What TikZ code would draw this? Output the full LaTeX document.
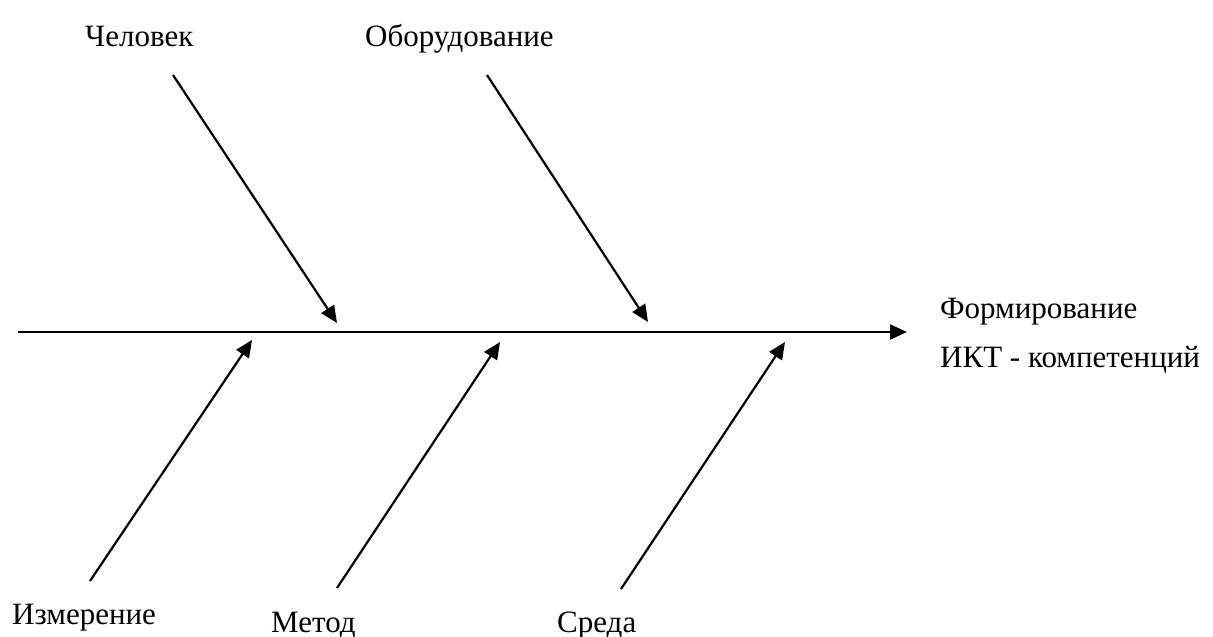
\documentclass[tikz,border=0pt]{standalone}
\usepackage{fontspec}
\setmainfont{Liberation Serif}
\usetikzlibrary{arrows.meta}
\begin{document}
\begin{tikzpicture}[x=1pt,y=-1pt,
  lbl/.style={font=\fontsize{31}{37}\selectfont, inner sep=0pt, anchor=base west},
  arr/.style={line width=2.2pt, -{Triangle[length=17pt,width=15pt]}}]
\useasboundingbox (0,0) rectangle (1213,637);
% labels
\node[lbl] (chel) at (85,46) {Человек};
\node[lbl] (obor) at (365,46) {Оборудование};
\node[lbl] (form) at (940,318) {Формирование};
\node[lbl] (ikt) at (940,367) {ИКТ - компетенций};
\node[lbl] (izm) at (12,624) {Измерение};
\node[lbl] (met) at (271,632) {Метод};
\node[lbl] (sre) at (557,632) {Среда};
% coordinates
\coordinate (m0) at (18,332);
\coordinate (m1) at (907,332);
\coordinate (a0) at (173,75);  \coordinate (a1) at (337,323);
\coordinate (b0) at (487,75);  \coordinate (b1) at (648,322);
\coordinate (c0) at (90,581);  \coordinate (c1) at (252,340);
\coordinate (d0) at (337,588); \coordinate (d1) at (500,342);
\coordinate (e0) at (621,589); \coordinate (e1) at (785,342);
% connectors
\draw[arr] (m0) -- (m1);
\draw[arr] (a0) -- (a1);
\draw[arr] (b0) -- (b1);
\draw[arr] (c0) -- (c1);
\draw[arr] (d0) -- (d1);
\draw[arr] (e0) -- (e1);
\end{tikzpicture}
\end{document}
